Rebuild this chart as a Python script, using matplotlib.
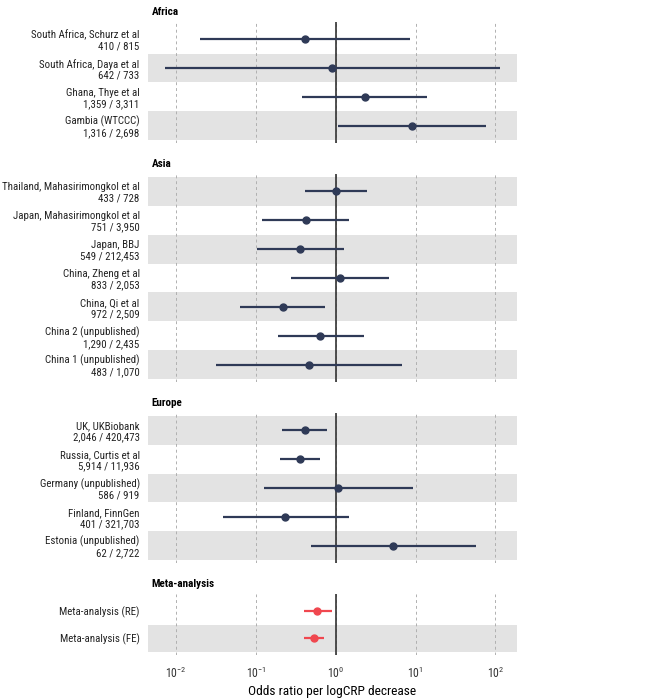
import numpy as np
import matplotlib
matplotlib.use("Agg")
import matplotlib.pyplot as plt
from matplotlib.ticker import LogLocator, NullLocator
from matplotlib import font_manager
from matplotlib.textpath import TextPath
from matplotlib.font_manager import FontProperties

NAVY = "#2f3a57"
RED = "#f0474f"
SHADE = "#e3e3e3"
GRID = "#b0b0b0"

# narrow sans if there is one, else plain Liberation Sans
names = {f.name for f in font_manager.fontManager.ttflist}
FONT = "Liberation Sans"
for cand in ["Liberation Sans Narrow", "Arial Narrow", "Roboto Condensed",
             "Archivo Narrow", "PT Sans Narrow", "Pragati Narrow",
             "Open Sans Condensed", "DejaVu Sans Condensed"]:
    if cand in names:
        FONT = cand
        break

plt.rcParams.update({
    "font.family": [FONT, "DejaVu Sans"],
    "mathtext.fontset": "custom",
    "mathtext.rm": FONT,
    "mathtext.it": FONT + ":italic",
})


def fit_size(text, px, maxsize, bold=False):
    fp = FontProperties(family=FONT, size=10, weight="bold" if bold else "normal")
    w = TextPath((0, 0), text, prop=fp).get_extents().width  # in points
    return min(maxsize, 10 * px / (w * 100 / 72))


# ---- data (odds ratios) ----
africa_labels = ["South Africa, Schurz et al\n410 / 815",
                 "South Africa, Daya et al\n642 / 733",
                 "Ghana, Thye et al\n1,359 / 3,311",
                 "Gambia (WTCCC)\n1,316 / 2,698"]
africa_or = [0.41, 0.91, 2.3, 8.9]
africa_lo = [0.020, 0.0073, 0.38, 1.07]
africa_hi = [8.5, 115, 13.8, 76]

asia_labels = ["Thailand, Mahasirimongkol et al\n433 / 728",
               "Japan, Mahasirimongkol et al\n751 / 3,950",
               "Japan, BBJ\n549 / 212,453",
               "China, Zheng et al\n833 / 2,053",
               "China, Qi et al\n972 / 2,509",
               "China 2 (unpublished)\n1,290 / 2,435",
               "China 1 (unpublished)\n483 / 1,070"]
asia_or = [1.0, 0.42, 0.36, 1.12, 0.22, 0.64, 0.46]
asia_lo = [0.41, 0.118, 0.102, 0.275, 0.063, 0.19, 0.032]
asia_hi = [2.45, 1.48, 1.28, 4.7, 0.74, 2.25, 6.8]

europe_labels = ["UK, UKBiobank\n2,046 / 420,473",
                 "Russia, Curtis et al\n5,914 / 11,936",
                 "Germany (unpublished)\n586 / 919",
                 "Finland, FinnGen\n401 / 321,703",
                 "Estonia (unpublished)\n62 / 2,722"]
europe_or = [0.41, 0.36, 1.07, 0.235, 5.2]
europe_lo = [0.215, 0.2, 0.125, 0.039, 0.49]
europe_hi = [0.78, 0.64, 9.2, 1.45, 57]

meta_labels = ["Meta-analysis (RE)", "Meta-analysis (FE)"]
meta_or = [0.59, 0.53]
meta_lo = [0.40, 0.40]
meta_hi = [0.89, 0.72]

panels = [
    ("Africa", africa_labels, africa_or, africa_lo, africa_hi, NAVY),
    ("Asia", asia_labels, asia_or, asia_lo, asia_hi, NAVY),
    ("Europe", europe_labels, europe_or, europe_lo, europe_hi, NAVY),
    ("Meta-analysis", meta_labels, meta_or, meta_lo, meta_hi, RED),
]

LABEL_FS = fit_size("Thailand, Mahasirimongkol et al", 136, 9.5)
TITLE_FS = fit_size("Meta-analysis", 62, 9, bold=True)
XLAB_FS = fit_size("Odds ratio per logCRP decrease", 166, 12)

W, H = 652, 700
fig = plt.figure(figsize=(W / 100, H / 100), dpi=100)

# panel extents in pixels (top, bottom)
extents = [(22, 143), (174, 382), (413, 563), (594, 655)]
x0, x1 = 148, 517

for (title, labels, ors, los, his, col), (top, bot) in zip(panels, extents):
    ax = fig.add_axes([x0 / W, 1 - bot / H, (x1 - x0) / W, (bot - top) / H])
    n = len(labels)
    ypos = np.arange(n, 0, -1)
    ax.set_xscale("log")
    ax.set_xlim(10 ** -2.35, 10 ** 2.27)
    ax.set_ylim(0.4, n + 0.6)

    for y in ypos:
        if y % 2 == 1:
            ax.axhspan(y - 0.5, y + 0.5, color=SHADE, lw=0, zorder=0)
    for e in range(-2, 3):
        ax.axvline(10.0 ** e, color=GRID, ls=(0, (3, 3)), lw=0.7, zorder=1)
    ax.axvline(1, color="#333333", lw=1.2, zorder=2)

    ax.hlines(ypos, los, his, color=col, lw=1.6, zorder=3)
    ax.plot(ors, ypos, "o", color=col, ms=5, zorder=4)

    ax.set_yticks(ypos)
    ax.set_yticklabels(labels, fontsize=LABEL_FS, linespacing=1.15,
                       color="#222222")
    ax.tick_params(axis="y", length=0, pad=6)
    for s in ax.spines.values():
        s.set_visible(False)
    ax.set_title(title, loc="left", fontsize=TITLE_FS, fontweight="bold",
                 x=0.01, pad=5)

    if title == "Meta-analysis":
        ax.xaxis.set_major_locator(LogLocator(base=10, numticks=10))
        ax.xaxis.set_minor_locator(NullLocator())
        ax.tick_params(axis="x", length=0, labelsize=8.5, pad=8,
                       labelcolor="#333333")
        ax.set_xlabel("Odds ratio per logCRP decrease", fontsize=XLAB_FS,
                      labelpad=3)
    else:
        ax.set_xticks([])
        ax.xaxis.set_minor_locator(NullLocator())

fig.savefig("out.png", dpi=100)
